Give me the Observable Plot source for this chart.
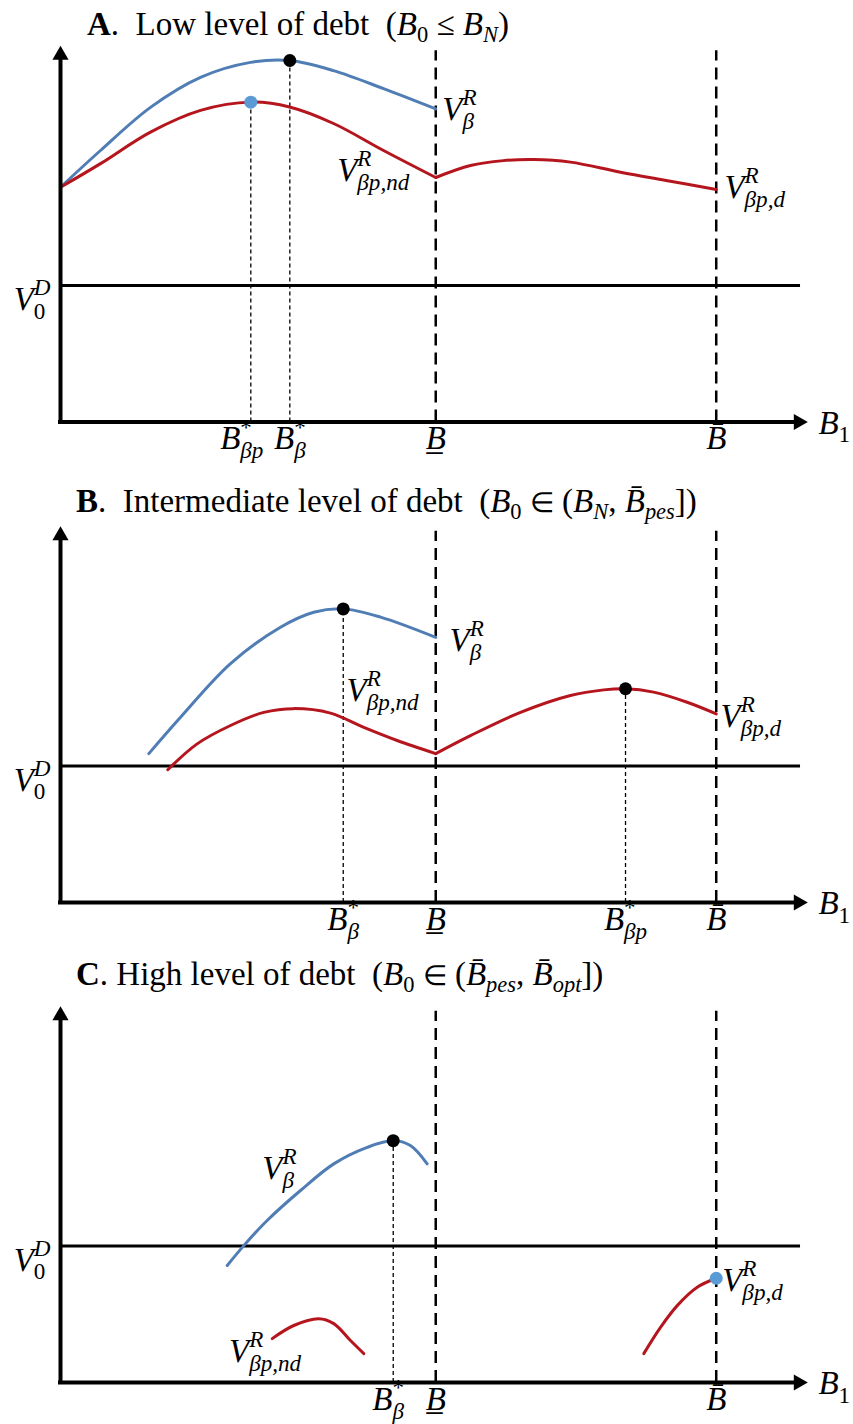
<!DOCTYPE html>
<html>
<head>
<meta charset="utf-8">
<script src="https://cdn.jsdelivr.net/npm/d3@7"></script>
<script src="https://cdn.jsdelivr.net/npm/@observablehq/plot@0.6"></script>
<style>
  body { margin: 0; background: #fff; }
  #fig { position: relative; width: 853px; height: 1424px; overflow: hidden;
         font-family: "Liberation Serif", "Times New Roman", serif; color: #000; }
  .title { position: absolute; font-size: 33px; line-height: 1; white-space: nowrap; }
  .title sub { font-size: 0.68em; vertical-align: -0.3em; line-height: 0; }
  .title .op { font-size: 0.85em; }
  .plot { position: absolute; left: 0; }
</style>
</head>
<body>
<div id="fig"></div>
<script>
// Both axes use arbitrary units: B1 runs 0–100, the value V runs 0–100.
const xMax = 100, yMax = 100;
const bLow = 50.3;    // B underbar
const bHigh = 87.9;   // B overbar
const v0D = 36.4;     // value of default, V_0^D

const blue = "#4f7db4", red = "#b5161e", dotBlue = "#5b9bd5";

// ---- Panel A: low level of debt ----
const blueA = [[0, 62.6], [5.36, 72.4], [12.06, 83.9], [18.77, 91.9], [25.47, 95.9],
               [30.74, 96.4], [36.6, 93.7], [43.3, 88.9], [50.3, 83.5]];
const redA = [
  [[0, 62.6], [5.36, 68.9], [12.06, 77.3], [18.77, 83.1], [25.51, 85.3],
   [30.7, 84.0], [36.6, 79.6], [43.3, 72.4], [50.3, 65.2]],
  [[50.3, 65.2], [54.96, 68.4], [59.38, 69.7], [63.4, 70.0], [68.36, 69.3],
   [75.07, 66.6], [81.77, 64.2], [87.9, 62.0]]
];
const blackDotsA = [[30.74, 96.4]];
const blueDotsA = [[25.51, 85.3]];
const dropsA = [[25.51, 85.3], [30.74, 96.4]];
const ticksA = [25.51, 30.74, bLow, bHigh];
const tickTextA = ["B_{βp}^{*}", "B_{β}^{*}", "B\u0332", "B\u0304"];
const labelsA = [
  {x: 51.17, y: 83.3, text: "V_{β}^{R}"},
  {x: 37.09, y: 67.1, text: "V_{βp,nd}^{R}"},
  {x: 89.0, y: 62.6, text: "V_{βp,d}^{R}"}
];

// ---- Panel B: intermediate level of debt ----
const blueB = [[11.84, 39.7], [16.09, 49.4], [22.79, 63.7], [29.49, 73.4], [33.95, 77.4],
               [37.9, 78.3], [42.9, 76.1], [50.3, 70.7]];
const redB = [
  [[14.38, 35.4], [18.32, 42.3], [22.79, 47.2], [27.25, 50.7], [31.27, 51.7],
   [36.19, 50.5], [40.66, 46.7], [45.13, 43.2], [50.3, 39.7]],
  [[50.3, 39.7], [54.96, 44.5], [61.66, 50.7], [68.36, 55.2], [72.83, 56.7],
   [75.74, 57.0], [79.5, 56.1], [84.0, 53.4], [87.9, 50.3]]
];
const blackDotsB = [[37.9, 78.3], [75.74, 57.0]];
const blueDotsB = [];
const dropsB = [[37.9, 78.3], [75.74, 57.0]];
const ticksB = [37.9, bLow, 75.74, bHigh];
const tickTextB = ["B_{β}^{*}", "B\u0332", "B_{βp}^{*}", "B\u0304"];
const labelsB = [
  {x: 52.14, y: 69.9, text: "V_{β}^{R}"},
  {x: 38.34, y: 56.6, text: "V_{βp,nd}^{R}"},
  {x: 88.47, y: 49.7, text: "V_{βp,d}^{R}"}
];

// ---- Panel C: high level of debt ----
const blueC = [[22.35, 31.2], [24.57, 36.5], [27.7, 43.2], [32.17, 51.2], [36.63, 58.3],
               [41.11, 62.7], [44.6, 64.5], [46.9, 63.2], [49.15, 58.3]];
const redC = [
  [[28.38, 11.7], [31.27, 15.2], [34.62, 17.0], [36.63, 15.7], [38.87, 11.2], [40.66, 7.7]],
  [[78.19, 7.7], [80.43, 14.7], [82.67, 20.5], [85.35, 25.4], [87.9, 27.8]]
];
const blackDotsC = [[44.6, 64.5]];
const blueDotsC = [[87.9, 27.8]];
const dropsC = [[44.6, 64.5]];
const ticksC = [44.6, bLow, bHigh];
const tickTextC = ["B_{β}^{*}", "B\u0332", "B\u0304"];
const labelsC = [
  {x: 27.04, y: 57.1, text: "V_{β}^{R}"},
  {x: 22.59, y: 8.3, text: "V_{βp,nd}^{R}"},
  {x: 88.7, y: 27.3, text: "V_{βp,d}^{R}"}
];

const titleA = '<b>A</b>.&nbsp; Low level of debt&nbsp; (<i>B</i><sub>0</sub> ≤ <i>B</i><sub><i>N</i></sub>)';
const titleB = '<b>B</b>.&nbsp; Intermediate level of debt&nbsp; (<i>B</i><sub>0</sub> <span class="op">∈</span> (<i>B</i><sub><i>N</i></sub>, <i>B\u0304</i><sub><i>pes</i></sub>])';
const titleC = '<b>C</b>. High level of debt&nbsp; (<i>B</i><sub>0</sub> <span class="op">∈</span> (<i>B\u0304</i><sub><i>pes</i></sub>, <i>B\u0304</i><sub><i>opt</i></sub>])';

// page layout of the three panels (pixels); "nudge" shifts a crowded tick label
const panels = [
  {title: titleA, titleTop: 8, titleLeft: 87, top: 40, height: 430, mt: 6.5, mb: 48.5,
   blue: blueA, red: redA, black: blackDotsA, light: blueDotsA, drops: dropsA,
   ticks: ticksA, tickText: tickTextA, labels: labelsA, nudge: new Map([[25.51, -9]])},
  {title: titleB, titleTop: 485, titleLeft: 76, top: 520, height: 430, mt: 7, mb: 48,
   blue: blueB, red: redB, black: blackDotsB, light: blueDotsB, drops: dropsB,
   ticks: ticksB, tickText: tickTextB, labels: labelsB, nudge: new Map()},
  {title: titleC, titleTop: 958, titleLeft: 76, top: 1000, height: 424, mt: 7, mb: 42,
   blue: blueC, red: redC, black: blackDotsC, light: blueDotsC, drops: dropsC,
   ticks: ticksC, tickText: tickTextC, labels: labelsC, nudge: new Map([[44.6, -5]])}
];

function drawPanel(p) {
  const redRows = p.red.flatMap((seg, i) => seg.map(([x, y]) => ({x, y, seg: i})));
  const tickLabel = new Map(p.ticks.map((t, i) => [t, p.tickText[i]]));
  const tickAxis = (ticks, dx) => Plot.axisX(ticks, {tickSize: 0, tickPadding: 4, label: null,
                                                    dx, tickFormat: t => tickLabel.get(t)});
  return Plot.plot({
    width: 853,
    height: p.height,
    marginLeft: 60,
    marginRight: 47,
    marginTop: p.mt,
    marginBottom: p.mb,
    x: {domain: [0, xMax], label: null},
    y: {domain: [0, yMax], label: null},
    style: {fontFamily: '"Liberation Serif", "Times New Roman", serif', fontSize: "33px",
            fontStyle: "italic", overflow: "visible", background: "transparent"},
    marks: [
      // level of the default value
      Plot.ruleY([v0D], {x1: 0, x2: 99.2, stroke: "#000", strokeWidth: 3}),
      // thresholds B underbar and B overbar
      Plot.ruleX([bLow, bHigh], {y1: 0, y2: yMax - 1, stroke: "#000", strokeWidth: 2.5,
                                 strokeDasharray: "12,7"}),
      // drop lines from the optima
      Plot.ruleX(p.drops, {x: d => d[0], y1: 0, y2: d => d[1], stroke: "#000",
                           strokeWidth: 1.3, strokeDasharray: "4,3"}),
      // value curves
      Plot.line(p.blue, {curve: "catmull-rom", stroke: blue, strokeWidth: 3}),
      Plot.line(redRows, {x: "x", y: "y", z: "seg", curve: "catmull-rom", stroke: red,
                          strokeWidth: 3}),
      // axes with arrowheads
      Plot.ruleX([0], {y1: 0, y2: yMax - 2, stroke: "#000", strokeWidth: 4,
                       strokeLinecap: "square"}),
      Plot.ruleY([0], {x1: 0, x2: xMax - 1, stroke: "#000", strokeWidth: 4,
                       strokeLinecap: "square"}),
      Plot.dot([[0, yMax]], {symbol: "triangle", r: 6, fill: "#000", dy: 8}),
      Plot.dot([[xMax, 0]], {symbol: "triangle", r: 6, fill: "#000", rotate: 90, dx: -8}),
      // optima
      Plot.dot(p.black, {r: 6.5, fill: "#000"}),
      Plot.dot(p.light, {r: 6.5, fill: dotBlue}),
      // curve labels
      Plot.text(p.labels, {x: "x", y: "y", text: "text", textAnchor: "start",
                           lineAnchor: "middle", fill: "#000"}),
      Plot.text([{x: 101.6, y: 0, text: "B_{1}"}], {x: "x", y: "y", text: "text",
                textAnchor: "start", lineAnchor: "middle", dy: 1, fill: "#000"}),
      tickAxis(p.ticks.filter(t => !p.nudge.has(t)), 0),
      ...[...p.nudge].map(([t, dx]) => tickAxis([t], dx)),
      Plot.axisY([v0D], {tickSize: 0, tickPadding: 10, label: null, dy: 14,
                         tickFormat: () => "V_{0}^{D}"})
    ]
  });
}

// Sets strings of the form "V_{sub}^{sup}" as a base with stacked scripts.
const NS = "http://www.w3.org/2000/svg";
function typeset(node) {
  const m = /^([^_^]+)(?:_\{([^}]*)\})?(?:\^\{([^}]*)\})?$/.exec(node.textContent);
  if (!m || (m[2] == null && m[3] == null)) return;
  const [, base, sub, sup] = m;
  const fs = parseFloat(getComputedStyle(node).fontSize);
  const small = fs * 0.7;
  const supShift = -0.45 * fs, subShift = 0.27 * fs;
  const upright = t => /^[0-9*]+$/.test(t) ? "normal" : "italic";
  node.textContent = "";
  const make = txt => {
    const t = document.createElementNS(NS, "tspan");
    t.textContent = txt;
    node.appendChild(t);
    return t;
  };
  make(base);
  const scripts = [];
  if (sup != null) scripts.push({t: make(sup), shift: supShift, txt: sup});
  if (sub != null) scripts.push({t: make(sub), shift: subShift, txt: sub});
  for (const s of scripts) {
    s.t.setAttribute("font-size", small);
    s.t.setAttribute("font-style", upright(s.txt));
    s.len = s.t.getComputedTextLength();
  }
  // shorter script first, longer one stacked over it so the advance ends after the longer
  scripts.sort((a, b) => a.len - b.len);
  let prevShift = 0, back = 0;
  for (const s of scripts) {
    node.appendChild(s.t);
    s.t.setAttribute("dy", s.shift - prevShift);
    if (back) s.t.setAttribute("dx", -back);
    prevShift = s.shift;
    back = s.len;
  }
}

const fig = document.getElementById("fig");
for (const p of panels) {
  const title = document.createElement("div");
  title.className = "title";
  title.style.top = p.titleTop + "px";
  title.style.left = p.titleLeft + "px";
  title.innerHTML = p.title;
  fig.appendChild(title);

  const svg = drawPanel(p);
  svg.classList.add("plot");
  svg.style.top = p.top + "px";
  fig.appendChild(svg);
  svg.querySelectorAll("text").forEach(typeset);
}
</script>
</body>
</html>
